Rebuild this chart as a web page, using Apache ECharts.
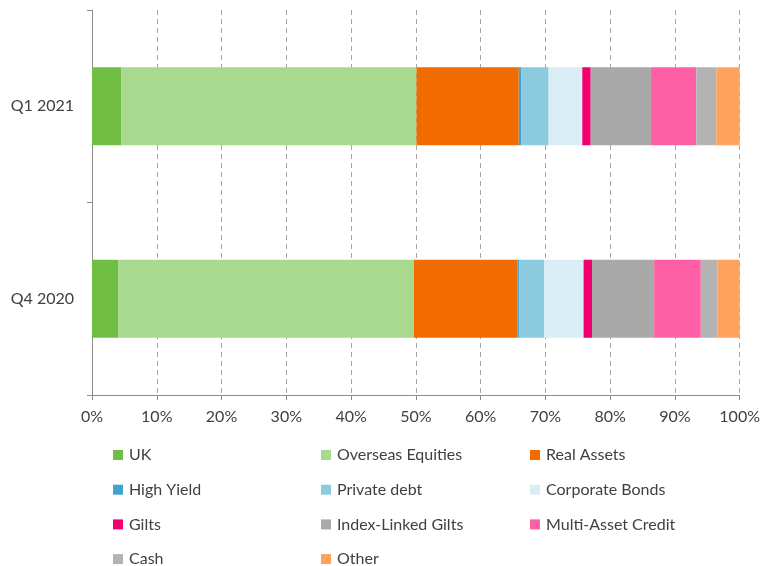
<!DOCTYPE html>
<html>
<head>
<meta charset="utf-8">
<script src="https://cdn.jsdelivr.net/npm/echarts@6/dist/echarts.min.js"></script>
<style>
  html, body { margin: 0; padding: 0; background: #fff; }
  #chart { width: 763px; height: 566px; }
</style>
</head>
<body>
<div id="chart"></div>
<script>
// categories, bottom to top
const categories = ["Q4 2020", "Q1 2021"];

const assetNames = [
  "UK", "Overseas Equities", "Real Assets", "High Yield", "Private debt",
  "Corporate Bonds", "Gilts", "Index-Linked Gilts", "Multi-Asset Credit",
  "Cash", "Other"
];

// allocation % per asset class
const q1_2021 = [4.5, 45.6, 15.8, 0.4, 4.2, 5.2, 1.3, 9.3, 7.0, 3.1, 3.6];
const q4_2020 = [4.1, 45.6, 16.0, 0.3, 3.8, 6.1, 1.3, 9.6, 7.2, 2.6, 3.4];

const assetColors = [
  "#70bf44", "#a9d98e", "#f26b00", "#3fa3cc", "#8ccadf",
  "#d9edf4", "#f0006e", "#a9a9a9", "#ff5fa5", "#b3b3b3", "#ffa35c"
];

const xTicks = [0, 100, 10];

const chart = echarts.init(document.getElementById("chart"));

const fontFamily = "Lato, 'Open Sans', sans-serif";
const textColor = "#404040";
const axisGray = "#8c8c8c";

const series = assetNames.map((name, i) => ({
  name: name,
  type: "bar",
  stack: "total",
  barWidth: 78,
  itemStyle: { color: assetColors[i] },
  data: [q4_2020[i], q1_2021[i]]
}));

// legend laid out in three columns like the original
const legendCol = (names, left) => ({
  orient: "vertical",
  left: left,
  top: 447,
  width: 200,
  height: 200,
  padding: 0,
  icon: "rect",
  itemWidth: 10,
  itemHeight: 10,
  itemGap: 18.7,
  selectedMode: false,
  textStyle: { color: textColor, fontSize: 16, fontFamily: fontFamily, padding: [0, 0, 0, 1] },
  data: names
});

const option = {
  animation: false,
  textStyle: { fontFamily: fontFamily },
  grid: { left: 92, right: 23, top: 10, bottom: 171, containLabel: false },
  legend: [
    legendCol(["UK", "High Yield", "Gilts", "Cash"], 113),
    legendCol(["Overseas Equities", "Private debt", "Index-Linked Gilts", "Other"], 321),
    legendCol(["Real Assets", "Corporate Bonds", "Multi-Asset Credit"], 530)
  ],
  xAxis: {
    type: "value",
    min: xTicks[0],
    max: xTicks[1],
    interval: xTicks[2],
    axisLine: { show: true, lineStyle: { color: axisGray, width: 1 } },
    axisTick: { show: true, length: 5, lineStyle: { color: axisGray } },
    axisLabel: { formatter: "{value}%", color: textColor, fontSize: 16, margin: 14 },
    splitLine: { show: true, lineStyle: { color: "#a6a6a6", type: [5, 4], width: 1 } }
  },
  yAxis: {
    type: "category",
    data: categories,
    axisLine: { show: true, lineStyle: { color: axisGray, width: 1 } },
    axisTick: { show: true, length: 5, lineStyle: { color: axisGray } },
    axisLabel: { color: textColor, fontSize: 16, margin: 18 }
  },
  series: series
};

chart.setOption(option);
</script>
</body>
</html>
